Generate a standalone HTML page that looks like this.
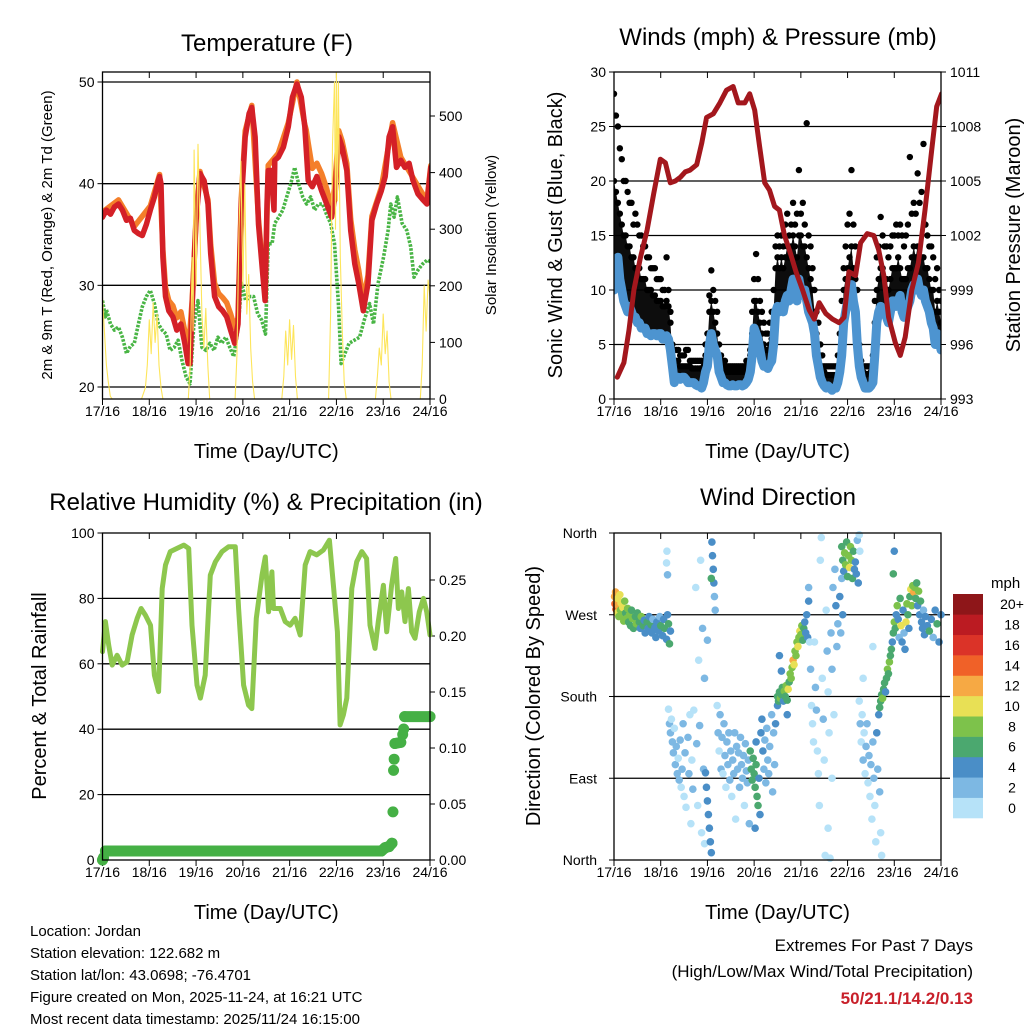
<!DOCTYPE html>
<html><head><meta charset="utf-8"><title>Weather station charts</title>
<style>
html,body{margin:0;padding:0;background:#fff;}
svg{display:block;font-family:"Liberation Sans",Arial,sans-serif;}
</style></head>
<body>
<svg id="root" width="1024" height="1024" viewBox="0 0 1024 1024" xmlns="http://www.w3.org/2000/svg"></svg>
<script>
// ---------- DATA ----------
const dayTicks = ["17/16","18/16","19/16","20/16","21/16","22/16","23/16","24/16"];
const tempTicks = [20,30,40,50];
const solarTicks = [0,100,200,300,400,500];
const windTicks = [0,5,10,15,20,25,30];
const pressTicks = [993,996,999,1002,1005,1008,1011];
const rhTicks = [0,20,40,60,80,100];
const precipTicks = [0.00,0.05,0.10,0.15,0.20,0.25];
const dirTicks = ["North","East","South","West","North"];
const speedBins = ["0","2","4","6","8","10","12","14","16","18","20+"];
const speedColors = ["#b6e2f8","#7db8e3","#4a8ec7","#4ba86f","#7dc24b","#e8e055","#f6a944","#f06128","#db3328","#bb1b22","#8e1619"];

// temperature [hour, F]
const tempRed = [[0,36.7],[2,37.4],[4.1,37],[6.1,37.7],[8.2,38],[10.2,37.4],[12.3,36.4],[14.3,36.6],[16.3,35.4],[18.4,35.1],[20.4,34.9],[22.5,36],[24.5,37.4],[26.6,38.7],[28.6,40.3],[29.3,40.7],[30,40],[31,32.8],[32.3,28.9],[34,27.5],[36.1,26.9],[38.1,25.6],[40.2,26.2],[42.2,24.3],[43.9,22.3],[44.9,22.3],[46,28.2],[48,36.4],[50,41],[52.1,40.3],[54.1,38],[55.5,33.1],[57.5,28.9],[59.6,27.9],[61.6,27.5],[63.7,26.9],[65.7,25.6],[67.8,24.3],[69.5,26.2],[71.2,38],[73.2,44.6],[75.2,46.9],[76.6,47.5],[78.3,44.6],[80,36],[82,31.5],[83.4,28.5],[84.4,38],[85,41.3],[86.5,41.3],[88,37.4],[88.4,42.3],[90.2,42.6],[92.8,43.6],[95.3,45.6],[97.4,48.5],[99.7,49.8],[102,48.5],[103.8,45.6],[105.5,40.3],[107.6,39.7],[110,40.7],[112.4,39.3],[115,38],[117.5,36.7],[119.2,38.7],[121.2,44.6],[122.9,43.6],[125.3,41.3],[127.3,35.4],[129.4,32.1],[131.4,30.2],[133.8,27.5],[136.2,30.2],[138.2,36.4],[140.6,38],[143,39.3],[145,40.7],[147,44.6],[148.8,45.6],[150.8,41.6],[153,42.3],[155.1,41.6],[157.3,42],[159.3,40.3],[161.8,39],[164.4,38.4],[166.4,38],[168.4,41.6]];
const tempOrange = [[0,37.2],[8.2,38.4],[16.3,35.8],[24.5,37.8],[29.3,40.9],[31,33.5],[32.3,29.8],[34,28.5],[36.1,28],[38.1,26.8],[40.2,27.4],[42.2,25.5],[43.9,23],[46,28.6],[48,36.8],[50,41.2],[54.1,38.4],[55.5,34],[57.5,30.2],[59.6,29.2],[61.6,28.8],[63.7,28.3],[65.7,27.2],[67.8,25.8],[69.5,26.8],[71.2,38.6],[73.2,45.2],[76.6,47.7],[80,36.5],[83.4,29],[85,41.8],[90.2,43],[95.3,46],[99.7,50],[103.8,45.8],[104.5,45.3],[105.5,44],[107.6,41.5],[110,42],[112.4,41],[115,39.5],[117.5,37.5],[119.2,40],[121.2,45.2],[122.9,44.2],[125.3,42],[127.3,36.5],[129.4,33.5],[131.4,31.5],[133.8,28.5],[136.2,31],[138.2,36.8],[143,39.6],[148.8,46],[153,42.6],[159.3,40.6],[166.4,38.3],[168.4,41.8]];
const tempGreen = [[0,28.5],[1.5,26.9],[2,27.6],[4.1,26.2],[6.1,25.6],[8.2,25.9],[10.2,24.9],[12.3,23.3],[14.3,24],[16.3,24.3],[18.4,26.2],[20.4,27.9],[22.5,28.9],[24.5,29.5],[26.6,28.2],[28.6,26.2],[30.6,25.6],[32.7,25.2],[34.7,23.6],[36.8,23.9],[38.8,24.6],[40.8,22.6],[42.9,21],[44.9,20.3],[46.9,26.2],[49,28.5],[51,23.9],[53.1,23.6],[55.1,24.3],[57.2,23.6],[59.2,24.9],[61.2,24.3],[63.2,24.9],[65.3,23.9],[67.3,23],[69.4,25.6],[71.4,30.2],[73.4,28.5],[75.5,28.9],[77.5,28.9],[79.6,27.2],[81.6,26.6],[83.6,25.2],[85,34.1],[87,34.1],[88.4,36.1],[90.4,36.7],[92.5,37.4],[94.5,38.7],[96.6,40],[98.6,41.6],[100.6,40],[102.7,38.7],[104.7,38],[106.8,38.7],[108.8,37.4],[110.8,38],[112.9,38],[114.9,37],[117,36.1],[119,34.1],[121,28.2],[122.4,22.3],[124.4,23.3],[126.5,24.3],[129.2,24.6],[131.9,24.9],[134.3,26.6],[137,28.2],[139,26.2],[141.4,30.2],[144.2,32.8],[146.5,35.4],[147.9,38],[149.6,36.7],[151.3,38.7],[153.7,36.1],[156.1,35.4],[158.1,33.8],[159.8,30.8],[161.8,31.5],[164.2,32.1],[166.6,32.5],[168.4,32.3]];
const solar = [[0,180],[1,120],[2,60],[3,30],[4,5],[5,0],[20,0],[22,20],[23,60],[24,140],[25,80],[26,170],[27,100],[28,150],[29,60],[30,20],[31,0],[44,0],[45,60],[46,250],[46.5,120],[47,440],[48,200],[49,450],[50,300],[51,150],[52,90],[53,160],[54,60],[55,0],[68,0],[69,80],[70,300],[71,420],[72,200],[73,380],[74,150],[75,220],[76,90],[77,30],[78,0],[92,0],[93,40],[94,120],[95,60],[96,140],[97,70],[98,130],[99,40],[100,0],[116,0],[117,150],[118,450],[119,560],[119.5,300],[120,580],[120.5,350],[121,560],[122,250],[123,120],[124,30],[125,0],[140,0],[141,40],[142,90],[143,60],[144,150],[145,80],[146,120],[147,30],[148,0],[163,0],[164,60],[165,200],[166,120],[167,210],[168,180]];

// winds: hourly values, index = hour 0..168
const windSonic = [10,12,13,11,10,9, 8.5,8,8.5,8,7.5,7.5, 7,7,6.5,6.5,6.5,6, 6,5.8,6,6,5.8,6, 6,5.5,5.5,5.8,5.5,4.5, 3,1.5,2,2,1.8,2, 2,1.8,1.5,1.5,1.5,1.5, 1.3,1.2,1.2,1,1.5,2.5, 3,5,6,5,4.5,4, 2.5,2,1.5,1.5,1.3,1.2, 1.2,1.3,1.2,1.2,1.3,1.3, 1.2,1.3,1.5,1.8,2.5,4, 6.5,6,5.5,4.5,3.5,3, 3,2.8,3.2,3.5,5,8, 8.5,8,8.5,8,9,9.5, 9,10,11,10,9,11, 10,9.5,10,9,8,7.5, 7,6,4,3,2,1.5, 1.2,1,1.2,1,0.8,1, 1,1.5,2.5,4,7,8, 9,10,10.5,9,8,5, 3,2,1.5,1,1,1, 1.2,1.5,4,7,8,8.5, 8,8,7.5,7,8,9, 9,8.5,9,9.5,8,7.5, 8,8.5,9,10,10.5,10, 11,10,9.5,10,9,8.5, 8,7,6.5,5,6,5.5,4.5];
const gustMid = [20,19,18,17,16,15, 15,14,14,13,13,12, 12,12,11,11,11,10, 10,10,9.5,9.5,9,9, 9,8.5,8.5,9,8.5,7, 4,3.5,3.5,3.5,3,3, 3,3,3,3,2.8,2.8, 2.8,2.8,2.8,2.8,3,4, 5,8,9,8,7,6, 4,3.5,3,2.8,2.5,2.5, 2.5,2.5,2.5,2.5,2.5,2.5, 2.5,2.5,2.8,3,4,6, 9,9,8,7,6,5, 4.5,4.5,5,5.5,8,12, 13,12,13,12,13,14, 13,14,15,14,13,15, 15,14,14,13,12,11, 10,8,6,5,4,3, 2.5,2.2,2.2,2.2,2.2,2.2, 2.2,3,4,7,10,11, 12,13,14,12,11,7, 4,3,2.5,2.3,2.3,2.3, 2.5,3,7,10,11,12, 12,11,11,10,11,12, 12,12,13,12,11,11, 11,12,12,13,14,13, 14,13,13,13,12,12, 11,10,10,8,9,8,7];
const gustHi = [28,26,25,23,22,20, 20,19,18,18,16,17, 16,15,15,14,14,13, 13,12,12,12,11,11, 11,10,10,13,10,8, 5,4.5,4.5,4.5,4,4, 4,4.5,4.5,3.5,3.5,3.5, 3.5,3.5,3.5,3.5,3.5,5, 6,9.5,11.8,10,9,8, 5,4,3.5,3.5,3,3, 3,3,3,3,3,3, 3,3,3.5,3.5,4.5,8, 11,13.3,11,9,8,7, 6,6,7,8,10,14, 15,14,15,14,16,17, 15,16,18,16,17,21, 17,18,16,25.3,15,14, 12,10,8,7,5,4, 3,3,3,3,3,3, 3,4,6,9,12,14, 16,17,21,16,14,10, 5,3.5,3,3,3,3, 3,4,9,13,14,16.7, 15,14,14,13,14,15, 15,16,15,16,15,14, 15,16,22.2,17,18,17, 20.7,18,19,23.4,16,15, 14,14,13,11,12,10,9];
const pressure = [[1.7,994.2],[5.1,995],[7.7,996.8],[10.2,999],[13.6,1000.8],[17,1002.3],[20.4,1004.3],[23.8,1006.2],[26.4,1006],[28.9,1004.9],[31.5,1005],[34,1005.2],[36.6,1005.5],[39.1,1005.6],[42.5,1005.9],[45.1,1007.1],[47.6,1008.5],[51,1008.7],[54.4,1009.3],[57.8,1010],[61.2,1010.2],[63.8,1009.3],[67.2,1009.3],[69.7,1009.8],[72.3,1008.9],[74.8,1006.9],[77.4,1004.9],[79.9,1004.5],[82.5,1003.6],[85,1003.4],[87.6,1002],[90.1,1001.2],[93.5,1000],[96.9,999],[100.3,997.9],[102.9,997.4],[105.4,998.3],[108.8,997.7],[112.2,997.4],[115.6,997.2],[118.2,997.5],[120.7,1000],[124.1,999.8],[126.7,1001.6],[130.1,1002.1],[133.5,1002],[136,1001.2],[138.6,999.8],[141.1,997.5],[144.5,996.1],[147.1,995.4],[149.6,996.4],[153,999],[156.4,1000.5],[159.8,1003.4],[163.2,1006.7],[165.8,1009.1],[168.3,1009.8]];

// relative humidity [hour, %]
const rh = [[0,63.7],[1.5,72.9],[3.2,65.7],[5,59.6],[7.5,62.6],[10.1,59.6],[12.6,60.6],[15.2,68.8],[17.8,73.9],[19.8,76.9],[22,74.9],[24.6,71.8],[26.6,56.5],[28.8,51.5],[30.6,83],[32.3,90.2],[34.8,94.3],[38.2,95.3],[41.7,96.3],[44.2,95.3],[45.9,71.8],[48.5,53.5],[50.2,49.5],[52.7,56.5],[55.3,87.1],[57.9,91.2],[61.3,94.3],[64.7,95.8],[68.1,95.8],[69.8,76.9],[72.4,53.5],[74.9,47.4],[76.6,46.3],[78.9,73.9],[81.8,87.1],[83.5,92.7],[85.2,75.9],[86.9,88.1],[87.7,76.9],[91.2,76.9],[93.7,72.9],[96.3,71.8],[98.8,73.9],[101.4,68.8],[104,90.2],[106.5,94.3],[109.9,93.3],[113.3,94.8],[116.4,97.8],[118.6,83],[120.5,69.8],[121.9,41.3],[123.6,44.4],[125.3,49.5],[127.9,83],[130.4,91.2],[133,94.3],[135.5,92.2],[137.2,71.8],[139.8,64.7],[141.5,72.9],[144.1,84],[145.8,69.8],[148.3,84],[150.4,92.2],[151.8,76.9],[153.5,82],[155.2,72.9],[156.9,83],[158.6,69.8],[160.3,67.8],[162.5,75.9],[164.6,80],[166.3,75.9],[168,68.8]];
const precip = [[0,0],[0.5,0.002],[1.5,0.008],[143,0.008],[145,0.011],[147,0.012],[148.5,0.015],[149,0.043],[149.3,0.08],[149.6,0.09],[150,0.104],[153,0.105],[154,0.112],[154.5,0.117],[155,0.128],[168,0.128]];

// wind direction [hour, degrees, mph]
const windDir = [[0.3,290,13],[0.5,282,14],[0.8,295,12],[1,276,15],[1.3,285,12],[1.6,272,11],[2,288,10],[2.2,280,13],[2.5,268,9],[3,292,10],[3.3,275,8],[3.6,283,11],[4,270,8],[4.5,278,10],[5,263,8],[5.5,285,9],[6,272,7],[6.5,266,9],[7,277,8],[7.5,262,7],[8,270,8],[8.5,258,6],[9,275,7],[9.5,266,8],[10,255,6],[11,268,7],[11.5,260,8],[12,272,6],[13,262,7],[13.5,255,5],[14,268,8],[15,258,6],[15.5,264,5],[16,250,4],[17,262,7],[17.5,255,5],[18,268,4],[19,259,6],[19.5,250,4],[20,265,3],[21,256,5],[21.5,245,4],[22,262,5],[23,252,4],[23.5,268,3],[24,258,6],[25,247,4],[25.5,265,5],[26,255,7],[27,243,4],[27.5,270,5],[28,260,6],[28.5,238,7],[29,252,4],
[27,327,1],[27.2,340,1],[27.5,314,2],[28,166,1],[28.5,150,2],[29,140,2],[29.5,155,1],[30,130,2],[30.5,118,2],[31,145,1],[31.5,105,2],[32,125,3],[32.5,95,2],[33,112,1],[33.5,88,2],[34,132,2],[34.5,80,1],[35,100,3],[35.5,150,2],[36,70,1],[36.5,118,2],[37,58,1],[38,135,2],[38.5,95,2],[39,160,1],[39.5,40,1],[40,110,1],[40.5,78,2],[41,165,1],[42,300,1],[42.5,128,2],[43,60,1],[43.5,220,1],[44,148,2],[44.5,330,1],[45,30,1],[45.5,255,2],[46,100,2],[46.5,18,1],[47,96,4],[47.5,80,4],[48,65,4],[48.5,50,4],[49,35,4],[49.5,20,4],[50,8,5],[50.3,350,4],[50.6,335,4],[51,320,4],[51.3,305,4],[51.6,290,3],[52,275,3],[50,310,6],[48,242,3],[46.5,200,2],
[53,170,1],[53.5,140,2],[54,120,1],[54.5,160,2],[55,100,2],[55.5,135,3],[56,95,1],[56.5,150,2],[57,115,2],[57.5,80,1],[58,130,2],[58.5,105,3],[59,140,2],[59.5,88,2],[60,120,3],[60.5,70,1],[61,110,2],[61.5,95,3],[62,140,2],[62.5,45,1],[63,125,2],[63.5,100,3],[64,118,2],[64.5,80,3],[65,135,2],[65.5,105,3],[66,90,2],[66.5,115,3],[67,60,1],[67.5,128,2],[68,98,3],[68.5,85,2],[69,110,3],[69.5,40,2],[70,120,6],[70.5,100,6],[71,88,7],[71.5,112,7],[72,95,6],[72.5,80,6],[73,105,7],[73.5,70,6],[74,60,6],[74.5,90,4],[75,50,4],[75.5,140,4],[76,155,4],[76.5,120,4],[77,100,3],[77.5,132,3],[78,85,3],[78.5,145,3],[79,110,3],[79.5,95,2],[80,125,3],[81,160,3],[81.5,75,2],[82,140,3],[82.5,105,3],[83,150,4],[84,170,4],[72.5,35,4],[73,130,4],
[84,180,6],[84.5,175,7],[85,185,6],[85.5,178,8],[86,182,6],[86.5,190,7],[87,175,5],[87.5,186,8],[88,180,6],[88.5,192,8],[89,176,7],[89.5,188,10],[90,196,7],[90.5,205,8],[91,200,8],[91.5,212,9],[92,220,12],[92.5,215,10],[93,230,8],[93.5,225,8],[94,240,9],[94.5,235,10],[95,245,8],[95.5,252,10],[96,248,9],[96.5,258,8],[97,242,7],[97.5,255,6],[98,262,5],[98.5,250,4],[99,270,4],[85,225,4],[86,208,4],[89,160,4],[99.5,245,4],[100,285,4],
[100,300,2],[100.5,240,1],[101,210,2],[101.5,170,1],[102,150,1],[102.5,130,1],[103,240,1],[103.5,190,2],[104,165,2],[104.5,120,1],[105,95,1],[105.5,60,1],[106,330,1],[106.5,355,1],[107,200,1],[107.5,155,2],[108,110,1],[108.5,5,1],[109,275,1],[109.5,230,2],[110,185,1],[110.5,140,1],[111,2,1],[111.5,250,2],[112,210,2],[112.5,300,2],[113,160,1],[113.5,320,3],[114,280,4],[114.5,235,3],[115,260,2],[116,290,4],[116.5,250,3],[117,310,3],[117.5,270,4],[112,90,1],[110,35,1],
[117,345,6],[117.5,330,7],[118,318,5],[118.5,338,8],[119,325,8],[119.5,350,7],[120,312,6],[120.5,335,8],[121,322,10],[121.5,345,9],[122,330,8],[122.5,310,7],[123,340,6],[123.5,320,5],[124,328,4],[124.5,315,4],[125,352,3],[125.5,305,4],[126,358,1],[126.3,340,1],
[126,175,1],[126.5,150,2],[127,130,1],[127.5,160,1],[128,110,2],[128.5,140,1],[129,95,1],[129.5,125,2],[130,150,3],[130.5,85,1],[131,115,2],[131.5,70,1],[132,105,3],[132.5,45,1],[133,130,3],[133.5,90,2],[134,60,1],[134.5,20,1],[135,140,4],[135.5,100,3],[136,160,4],[136.5,75,3],[137,30,1],[137.5,5,1],[128,200,1],[133,235,1],
[136.5,168,6],[137,175,7],[137.5,182,6],[138,178,8],[138.5,188,7],[139,195,6],[139.5,185,5],[140,200,7],[140.5,210,8],[141,205,6],[141.5,218,8],[142,225,7],[142.5,232,6],[143,240,5],[143.5,250,7],[144,262,8],[144.5,255,6],[145,270,4],[145.5,280,8],[146,265,4],[146.5,245,3],[147,288,6],[147.5,258,10],[148,240,4],[148.5,275,4],[149,250,3],[149.5,232,4],[150,262,10],[150.5,282,8],[151,270,6],[151.5,255,4],[152,290,7],[152.5,298,10],[153,280,8],[153.5,302,9],[154,295,12],[154.5,300,8],[155,288,6],[155.5,305,7],[156,280,4],[156.5,296,8],[157,270,4],[157.5,285,6],[158,262,4],[158.5,255,4],[159,275,3],[159.5,248,4],[160,268,4],[161,258,4],[162,252,6],[163,265,4],[164,245,3],[165,275,4],[166,260,6],[167,240,4],[168,270,4],[144,340,4],[143.5,315,6]];

// ---------- RENDER ----------
const NS = "http://www.w3.org/2000/svg";
const root = document.getElementById("root");
function el(tag, attrs, parent){
  const e = document.createElementNS(NS, tag);
  for (const k in attrs) e.setAttribute(k, attrs[k]);
  (parent || root).appendChild(e);
  return e;
}
function lin(d0,d1,r0,r1){ return v => r0 + (v-d0)*(r1-r0)/(d1-d0); }
function txt(x,y,s,size,anchor,parent,extra){
  const t = el("text",Object.assign({x:x,y:y,"font-size":size,"text-anchor":anchor||"middle",fill:"#000"},extra||{}),parent);
  t.textContent = s;
  return t;
}

const panels = [
  {name:"temperature-chart", x0:102.5, x1:430, y0:72, y1:399},
  {name:"winds-pressure-chart", x0:614, x1:941, y0:72, y1:399},
  {name:"humidity-precip-chart", x0:102.5, x1:430, y0:533, y1:860},
  {name:"wind-direction-chart", x0:614, x1:941, y0:533, y1:860}
];

function frame(p, g){
  const xs = lin(0,168,p.x0,p.x1);
  dayTicks.forEach((d,i)=>{
    const x = xs(i*24);
    el("line",{x1:x,x2:x,y1:p.y1,y2:p.y1+6,stroke:"#000","stroke-width":1},g);
    el("line",{x1:x,x2:x,y1:p.y0,y2:p.y0+6,stroke:"#000","stroke-width":1},g);
    const t = txt(x,p.y1+17,d,14,"middle",g);
    
    
  });
  const xt = txt((p.x0+p.x1)/2,p.y1+59,"Time (Day/UTC)",20,"middle",g);
  
  
  return xs;
}
function border(p,g){
  const r = el("rect",{x:p.x0,y:p.y0,width:p.x1-p.x0,height:p.y1-p.y0,fill:"none",stroke:"#000","stroke-width":1.3},g);
  
  
}
function gridY(p,g,ys,vals,ext){
  vals.forEach(v=>{
    const y = ys(v);
    const l = el("line",{x1:p.x0,x2:p.x1+(ext||0),y1:y,y2:y,stroke:"#000","stroke-width":1.3},g);
    
    
  });
}
function leftTicks(p,g,ys,vals,fmt){
  vals.forEach(v=>{
    const y = ys(v);
    el("line",{x1:p.x0-5,x2:p.x0,y1:y,y2:y,stroke:"#000"},g);
    const t = txt(p.x0-8,y+5,fmt?fmt(v):String(v),14,"end",g);
    
    
  });
}
function rightTicks(p,g,ys,vals,fmt){
  vals.forEach(v=>{
    const y = ys(v);
    el("line",{x1:p.x1,x2:p.x1+5,y1:y,y2:y,stroke:"#000"},g);
    const t = txt(p.x1+9,y+5,fmt?fmt(v):String(v),14,"start",g);
    
    
  });
}
function vtitle(x,y,s,size,g,name){
  const t = txt(x,y,s,size,"middle",g,{transform:"rotate(-90 "+x+" "+y+")"});
  
  
}
function polyline(pts,attrs,g,name){
  const pl = el("polyline",Object.assign({points:pts.map(p=>p[0].toFixed(1)+","+p[1].toFixed(1)).join(" "),fill:"none","stroke-linejoin":"round","stroke-linecap":"round"},attrs),g);
  
  
  return pl;
}

// ---- Panel 1: temperature ----
(function(){
  const p = panels[0];
  const g = el("g",{});
  
  
  const t = txt(267,51,"Temperature (F)",24,"middle",g);
  
  
  const xs = frame(p,g);
  const ys = lin(20,50,387,82);
  const ys2 = lin(0,500,399,116);
  gridY(p,g,ys,tempTicks);
  leftTicks(p,g,ys,tempTicks);
  rightTicks(p,g,ys2,solarTicks);
  const clip = el("clipPath",{id:"c1"},g);
  el("rect",{x:p.x0,y:p.y0,width:p.x1-p.x0,height:p.y1-p.y0},clip);
  const cg = el("g",{"clip-path":"url(#c1)"},g);
  polyline(tempGreen.map(d=>[xs(d[0]),ys(d[1])]),{stroke:"#49b545","stroke-width":3.6,"stroke-dasharray":"2.6 1.4","stroke-linecap":"butt"},cg,"dewpoint-line");
  polyline(tempOrange.map(d=>[xs(d[0]),ys(d[1])]),{stroke:"#f47f2a","stroke-width":5.5},cg,"temp-9m-line");
  polyline(tempRed.map(d=>[xs(d[0]),ys(d[1])]),{stroke:"#d42027","stroke-width":5.5},cg,"temp-2m-line");
  polyline(solar.map(d=>[xs(d[0]),ys2(d[1])]),{stroke:"#fde55b","stroke-width":1.1},cg,"solar-line");
  border(p,g);
  vtitle(52,235,"2m & 9m T (Red, Orange) & 2m Td (Green)",15,g,"y-axis-title");
  vtitle(496,235,"Solar Insolation (Yellow)",15,g,"y2-axis-title");
})();

// ---- Panel 2: winds & pressure ----
(function(){
  const p = panels[1];
  const g = el("g",{});
  
  
  const t = txt(778,45,"Winds (mph) & Pressure (mb)",24,"middle",g);
  
  
  const xs = frame(p,g);
  const ys = lin(0,30,399,72);
  const ys2 = lin(993,1011,399,72);
  gridY(p,g,ys,[5,10,15,20,25]);
  leftTicks(p,g,ys,windTicks);
  rightTicks(p,g,ys2,pressTicks);
  const clip = el("clipPath",{id:"c2"},g);
  el("rect",{x:p.x0,y:p.y0-4,width:p.x1-p.x0,height:p.y1-p.y0+8},clip);
  const cg = el("g",{"clip-path":"url(#c2)"},g);
  const top = gustMid.map((v,i)=>[xs(i),ys(v)]);
  const bot = windSonic.map((v,i)=>[xs(i),ys(v)]).reverse();
  const band = el("polygon",{points:top.concat(bot).map(q=>q[0].toFixed(1)+","+q[1].toFixed(1)).join(" "),fill:"#000","fill-opacity":0.95},cg);
  
  
  gustMid.forEach((v,i)=>{
    const c = el("circle",{cx:xs(i),cy:ys(v),r:3.2,fill:"#000"},cg);
    
    
  });
  gustHi.forEach((v,i)=>{
    const c = el("circle",{cx:xs(i),cy:ys(v),r:3.2,fill:"#000"},cg);
    
    
  });
  polyline(windSonic.map((v,i)=>[xs(i),ys(v)]),{stroke:"#4d94d0","stroke-width":9},cg,"sonic-wind-line");
  polyline(pressure.map(d=>[xs(d[0]),ys2(d[1])]),{stroke:"#a3171d","stroke-width":5},cg,"pressure-line");
  border(p,g);
  vtitle(562,235,"Sonic Wind & Gust (Blue, Black)",20,g,"y-axis-title");
  vtitle(1020,235,"Station Pressure (Maroon)",20,g,"y2-axis-title");
})();

// ---- Panel 3: RH & precip ----
(function(){
  const p = panels[2];
  const g = el("g",{});
  
  
  const t = txt(266,510,"Relative Humidity (%) & Precipitation (in)",24,"middle",g);
  
  
  const xs = frame(p,g);
  const ys = lin(0,100,860,533);
  const ys2 = lin(0,0.25,860,580);
  gridY(p,g,ys,[20,40,60,80]);
  leftTicks(p,g,ys,rhTicks);
  rightTicks(p,g,ys2,precipTicks,v=>v.toFixed(2));
  polyline(rh.map(d=>[xs(d[0]),ys(d[1])]),{stroke:"#8dc74e","stroke-width":5},g,"humidity-line");
  for(let i=1;i<precip.length;i++){
    if(Math.abs(precip[i][1]-precip[i-1][1])<0.004){
      const l = el("line",{x1:xs(precip[i-1][0]),y1:ys2(precip[i-1][1]),x2:xs(precip[i][0]),y2:ys2(precip[i][1]),stroke:"#45b045","stroke-width":11,"stroke-linecap":"round"},g);
      
      
    }
  }
  precip.forEach(d=>{
    const c = el("circle",{cx:xs(d[0]),cy:ys2(d[1]),r:5.5,fill:"#45b045"},g);
    
    
  });
  border(p,g);
  vtitle(46,696,"Percent & Total Rainfall",20,g,"y-axis-title");
})();

// ---- Panel 4: wind direction ----
(function(){
  const p = panels[3];
  const g = el("g",{});
  
  
  const t = txt(778,505,"Wind Direction",24,"middle",g);
  
  
  const xs = frame(p,g);
  const ys = lin(0,360,860,533);
  gridY(p,g,ys,[90,180,270],9);
  dirTicks.forEach((s,i)=>{
    const y = ys(i*90);
    el("line",{x1:p.x0-5,x2:p.x0,y1:y,y2:y,stroke:"#000"},g);
    const tt = txt(p.x0-17,y+5,s,14,"end",g);
    
    
  });
  windDir.forEach(d=>{
    const bin = Math.min(10,Math.max(0,Math.floor(d[2]/2)));
    const c = el("circle",{cx:xs(d[0]),cy:ys(d[1]),r:3.8,fill:speedColors[bin]},g);
    
    
  });
  border(p,g);
  vtitle(540,696,"Direction (Colored By Speed)",20,g,"y-axis-title");
  const cb = el("g",{});
  
  
  const unit = txt(991,588,"mph",15,"start",cb);
  
  
  const bh = (818-594)/speedBins.length;
  speedBins.forEach((lab,i)=>{
    const y = 818 - (i+1)*bh;
    const r = el("rect",{x:953,y:y,width:30,height:bh+0.3,fill:speedColors[i]},cb);
    
    
    const tl = txt(1012,y+bh/2+5,lab,14,"middle",cb);
    
    
  });
})();

// ---- footer text ----
(function(){
  const g = el("g",{});
  
  
  ["Location: Jordan","Station elevation: 122.682 m","Station lat/lon: 43.0698; -76.4701","Figure created on Mon, 2025-11-24, at 16:21 UTC","Most recent data timestamp: 2025/11/24 16:15:00"].forEach((s,i)=>{
    const t = txt(30,936+i*22,s,15,"start",g);
    
    
  });
  const g2 = el("g",{});
  
  
  const a = txt(973,951,"Extremes For Past 7 Days",17,"end",g2);
  
  
  const b = txt(973,977,"(High/Low/Max Wind/Total Precipitation)",17,"end",g2);
  
  
  const c = txt(973,1004,"50/21.1/14.2/0.13",17,"end",g2,{fill:"#c8202a","font-weight":"bold"});
  
  
})();
</script>
</body></html>
